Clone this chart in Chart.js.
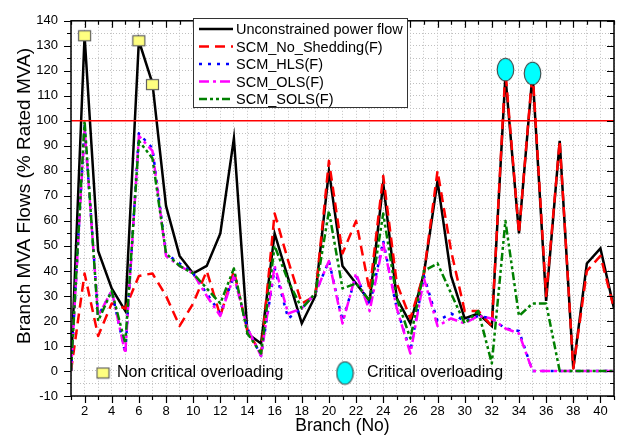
<!DOCTYPE html>
<html>
<head>
<meta charset="utf-8">
<script src="https://cdn.jsdelivr.net/npm/chart.js@4.4.0/dist/chart.umd.min.js"></script>
<style>
html, body { margin: 0; padding: 0; background: #fff; }
#wrap { width: 628px; height: 438px; }
</style>
</head>
<body>
<div id="wrap"><canvas id="flowChart" width="628" height="438"></canvas></div>
<script>
// Branch numbers 1..41
const branches = [1, 2, 3, 4, 5, 6, 7, 8, 9, 10, 11, 12, 13, 14, 15, 16, 17, 18, 19, 20,
    21, 22, 23, 24, 25, 26, 27, 28, 29, 30, 31, 32, 33, 34, 35, 36, 37, 38, 39, 40, 41];

// Branch MVA flows (% of rated MVA)
const unconstrained = [0, 134, 48, 33, 24, 132, 115, 66, 46, 39, 42, 55, 93, 15, 11, 55, 37, 19, 30, 80,
    42, 35, 28, 75, 29, 19, 39, 76, 38, 21, 23, 18, 118, 55, 119, 28, 92, 1, 43, 49, 25];
const noShedding = [0, 39, 14, 27, 25, 38, 39, 30, 18, 27, 40, 22, 40, 16, 7, 63, 44, 27, 30, 84,
    47, 60, 32, 78, 35, 21, 39, 80, 48, 24, 24, 18, 120, 55, 120, 30, 92, 1, 40, 46, 25];
const hls = [0, 98, 22, 32, 7, 95, 89, 47, 43, 39, 31, 23, 38, 17, 6, 41, 21, 25, 31, 44,
    20, 38, 26, 52, 25, 8, 38, 20, 23, 20, 22, 21, 17, 16, 0, 0, 0, 0, 0, 0, 0];
const ols = [0, 97, 22, 32, 7, 94, 88, 46, 42, 39, 30, 22, 38, 17, 6, 42, 23, 25, 31, 44,
    19, 39, 24, 51, 25, 7, 37, 18, 21, 19, 22, 21, 17, 15, 0, 0, 0, 0, 0, 0, 0];
const sols = [0, 100, 20, 32, 11, 92, 85, 47, 42, 39, 33, 27, 41, 15, 7, 50, 36, 25, 31, 64,
    33, 35, 28, 63, 29, 13, 40, 43, 31, 19, 24, 3, 60, 22, 27, 27, 0, 0, 0, 0, 0];

const ratedLimit = 100;

// Overloading markers
const nonCriticalBranches = [2, 6, 7];
const nonCriticalValues = [134, 132, 114.5];
const criticalBranches = [33, 35];
const criticalValues = [120.5, 119];

const seriesLabels = ['Unconstrained power flow', 'SCM_No_Shedding(F)', 'SCM_HLS(F)', 'SCM_OLS(F)', 'SCM_SOLS(F)'];
const yTitle = 'Branch MVA Flows (% Rated MVA)';

function toPoints(xs, ys) {
    return xs.map((x, i) => ({ x: x, y: ys[i] }));
}

function makeSquare() {
    const c = document.createElement('canvas');
    c.width = 15;
    c.height = 13;
    const g = c.getContext('2d');
    g.fillStyle = '#ffff80';
    g.fillRect(1, 1, 13, 11);
    g.strokeStyle = '#606060';
    g.lineWidth = 1.2;
    g.strokeRect(1.5, 1.5, 12, 10);
    return c;
}

function makeEllipse() {
    const c = document.createElement('canvas');
    c.width = 19;
    c.height = 25;
    const g = c.getContext('2d');
    g.beginPath();
    g.ellipse(9.5, 12.5, 8.3, 11.3, 0, 0, Math.PI * 2);
    g.fillStyle = '#00ffff';
    g.fill();
    g.strokeStyle = '#404040';
    g.lineWidth = 1.1;
    g.stroke();
    return c;
}

const squareImg = makeSquare();
const ellipseImg = makeEllipse();

Chart.defaults.font.family = '"Liberation Sans", Arial, sans-serif';
Chart.defaults.color = '#000';

// frame, Origin-style ticks, y title and the two legends
const decorations = {
    id: 'decorations',
    afterDraw(chart) {
        const ctx = chart.ctx;
        const area = chart.chartArea;
        const xs = chart.scales.x;
        const ys = chart.scales.y;
        ctx.save();
        ctx.strokeStyle = '#000';
        ctx.lineWidth = 1.5;
        ctx.setLineDash([]);
        ctx.strokeRect(area.left, area.top, area.right - area.left, area.bottom - area.top);

        ctx.lineWidth = 1.2;
        ctx.beginPath();
        ys.ticks.forEach(t => {
            const py = Math.round(ys.getPixelForValue(t.value)) + 0.5;
            const len = t.value % 10 === 0 ? 7 : 4;
            ctx.moveTo(area.left - len, py);
            ctx.lineTo(area.left, py);
            ctx.moveTo(area.right - len, py);
            ctx.lineTo(area.right, py);
        });
        xs.ticks.forEach(t => {
            const px = Math.round(xs.getPixelForValue(t.value)) + 0.5;
            const len = t.value % 2 === 0 ? 7 : 4;
            ctx.moveTo(px, area.bottom);
            ctx.lineTo(px, area.bottom + len);
            ctx.moveTo(px, area.top);
            ctx.lineTo(px, area.top + len);
        });
        ctx.stroke();

        // y axis title, a bit above the middle like the original
        ctx.save();
        ctx.translate(25, 196);
        ctx.rotate(-Math.PI / 2);
        ctx.font = '19px "Liberation Sans", Arial, sans-serif';
        ctx.textAlign = 'center';
        ctx.textBaseline = 'middle';
        ctx.fillStyle = '#000';
        ctx.fillText(yTitle, 0, 0);
        ctx.restore();

        // series legend
        const bx = 193, by = 18, bw = 214, bh = 89;
        ctx.fillStyle = '#fff';
        ctx.fillRect(bx, by, bw, bh);
        ctx.strokeStyle = '#333';
        ctx.lineWidth = 1;
        ctx.strokeRect(bx + 0.5, by + 0.5, bw, bh);
        ctx.font = '14.5px "Liberation Sans", Arial, sans-serif';
        ctx.textBaseline = 'middle';
        ctx.textAlign = 'left';
        chart.data.datasets.filter(ds => ds.inLegend).forEach((ds, i) => {
            const ly = by + 11 + i * 17.5;
            ctx.strokeStyle = ds.borderColor;
            ctx.lineWidth = ds.borderWidth;
            ctx.setLineDash(ds.borderDash || []);
            ctx.beginPath();
            ctx.moveTo(bx + 6, ly);
            ctx.lineTo(bx + 40, ly);
            ctx.stroke();
            ctx.setLineDash([]);
            ctx.fillStyle = '#000';
            ctx.fillText(ds.label, bx + 43, ly + 1);
        });

        // marker legend
        const my = area.bottom - 23;
        ctx.font = '16px "Liberation Sans", Arial, sans-serif';
        ctx.drawImage(squareImg, area.left + 32 - squareImg.width / 2, my - squareImg.height / 2);
        ctx.fillText('Non critical overloading', area.left + 46, my);
        ctx.drawImage(ellipseImg, area.left + 274 - ellipseImg.width / 2, my - ellipseImg.height / 2);
        ctx.fillText('Critical overloading', area.left + 296, my);
        ctx.restore();
    }
};

const ctx = document.getElementById('flowChart').getContext('2d');
new Chart(ctx, {
    type: 'line',
    data: {
        datasets: [
            {
                label: 'non critical',
                data: toPoints(nonCriticalBranches, nonCriticalValues),
                showLine: false,
                pointStyle: squareImg,
                pointRadius: 7,
                order: 0
            },
            {
                label: 'critical',
                data: toPoints(criticalBranches, criticalValues),
                showLine: false,
                pointStyle: ellipseImg,
                pointRadius: 10,
                order: 0
            },
            {
                label: seriesLabels[0],
                data: toPoints(branches, unconstrained),
                borderColor: '#000000',
                borderWidth: 2.5,
                borderDash: [],
                inLegend: true,
                order: 6
            },
            {
                label: seriesLabels[1],
                data: toPoints(branches, noShedding),
                borderColor: '#ff0000',
                borderWidth: 2.5,
                borderDash: [10, 6],
                borderJoinStyle: 'round',
                inLegend: true,
                order: 5
            },
            {
                label: seriesLabels[2],
                data: toPoints(branches, hls),
                borderColor: '#0000ff',
                borderWidth: 2.5,
                borderDash: [3, 6],
                borderJoinStyle: 'round',
                inLegend: true,
                order: 4
            },
            {
                label: seriesLabels[3],
                data: toPoints(branches, ols),
                borderColor: '#ff00ff',
                borderWidth: 2.5,
                borderDash: [10, 4, 3, 4],
                borderJoinStyle: 'round',
                inLegend: true,
                order: 3
            },
            {
                label: seriesLabels[4],
                data: toPoints(branches, sols),
                borderColor: '#008000',
                borderWidth: 2.5,
                borderDash: [8, 3, 3, 3, 3, 3],
                borderJoinStyle: 'round',
                inLegend: true,
                order: 2
            },
            {
                label: 'limit',
                data: [{ x: branches[0], y: ratedLimit }, { x: branches[branches.length - 1], y: ratedLimit }],
                borderColor: '#ff0000',
                borderWidth: 1.5,
                order: 1
            }
        ]
    },
    options: {
        responsive: false,
        animation: false,
        devicePixelRatio: 1,
        layout: { padding: { top: 13, right: 14, left: 0, bottom: 0 } },
        elements: {
            point: { radius: 0, hoverRadius: 0 },
            line: { tension: 0, fill: false, borderCapStyle: 'butt' }
        },
        plugins: {
            legend: { display: false },
            tooltip: { enabled: false }
        },
        scales: {
            x: {
                type: 'linear',
                min: 1,
                max: 41,
                afterFit: s => { s.height = 42; },
                ticks: {
                    stepSize: 1,
                    autoSkip: false,
                    maxRotation: 0,
                    padding: 8,
                    font: { size: 13 },
                    callback: v => (v % 2 === 0 ? v : '')
                },
                grid: { color: '#c0c0c0', lineWidth: 1, drawTicks: false },
                border: { display: false, dash: [1, 2] },
                title: { display: true, text: 'Branch (No)', font: { size: 17.5 }, padding: { top: 0, bottom: 1 } }
            },
            y: {
                min: -10,
                max: 140,
                afterFit: s => { s.width = 71; },
                ticks: {
                    stepSize: 5,
                    autoSkip: false,
                    padding: 13,
                    font: { size: 13 },
                    callback: v => (v % 10 === 0 ? v : '')
                },
                grid: { color: '#c0c0c0', lineWidth: 1, drawTicks: false },
                border: { display: false, dash: [1, 2] },
                title: { display: false }
            }
        }
    },
    plugins: [decorations]
});
</script>
</body>
</html>
